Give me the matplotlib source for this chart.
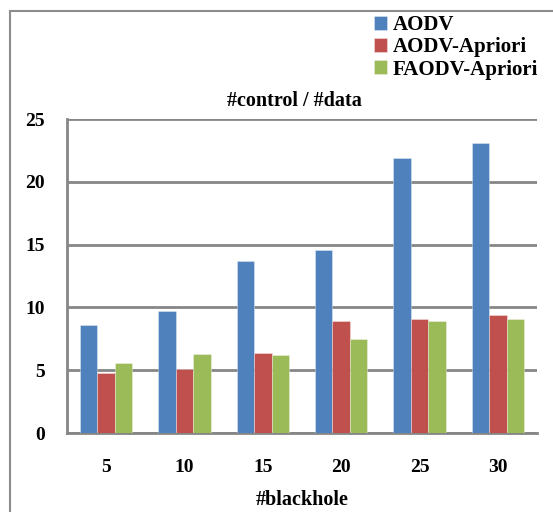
import matplotlib
matplotlib.use("Agg")
import matplotlib.pyplot as plt
import numpy as np
from matplotlib.patches import Rectangle

categories = ["5", "10", "15", "20", "25", "30"]
aodv = [8.6, 9.7, 13.7, 14.6, 21.9, 23.1]
aodv_apriori = [4.8, 5.1, 6.4, 8.9, 9.1, 9.4]
faodv_apriori = [5.6, 6.3, 6.2, 7.5, 8.9, 9.1]
series_names = ["AODV", "AODV-Apriori", "FAODV-Apriori"]
colors = ["#4F81BD", "#C0504D", "#9BBB59"]

plt.rcParams['font.family'] = ['Liberation Serif', 'DejaVu Serif']
plt.rcParams['font.weight'] = 'bold'

fig = plt.figure(figsize=(5.53, 5.12), dpi=100)
W, H = 553, 512
ax = fig.add_axes([67 / W, 1 - 433 / H, 470 / W, (433 - 119) / H])

x = np.arange(len(categories))
bw = 0.222
for i, (vals, name, c) in enumerate(zip([aodv, aodv_apriori, faodv_apriori], series_names, colors)):
    ax.bar(x + (i - 1) * bw, vals, width=bw, color=c, label=name,
           edgecolor=(1, 1, 1, 0.4), linewidth=0.6, zorder=3)

ax.set_xlim(-0.5, len(categories) - 0.5)
ax.set_ylim(0, 25)
ax.set_yticks([0, 5, 10, 15, 20, 25])
ax.set_xticks(x)
ax.set_xticklabels(categories)
ax.tick_params(axis='both', length=0, labelsize=14)
ax.tick_params(axis='y', pad=16)
ax.tick_params(axis='x', pad=19)
for lab in ax.get_xticklabels() + ax.get_yticklabels():
    lab.set_fontweight('bold')
ax.grid(axis='y', color='#868686', linewidth=2, zorder=0)
for s in ['top', 'right']:
    ax.spines[s].set_visible(False)
for s in ['left', 'bottom']:
    ax.spines[s].set_color('#868686')
    ax.spines[s].set_linewidth(2)
ax.set_title("#control / #data", fontsize=14.5, fontweight='bold', pad=9,
             x=(294.5 - 67) / 470)
ax.set_xlabel("#blackhole", fontsize=14.5, fontweight='bold', labelpad=10)

leg = fig.legend(loc='upper left', bbox_to_anchor=(366 / W, 1 - 7 / H),
                 frameon=False, prop={'weight': 'bold', 'size': 15},
                 handlelength=0.62, handleheight=0.62, handletextpad=0.25,
                 labelspacing=0.1, borderaxespad=0)

fig.patches.append(Rectangle((10 / W, -0.1), 1.0, 1 - 11 / H + 0.1,
                             transform=fig.transFigure, fill=False,
                             edgecolor='#8c8c8c', linewidth=1.5))

fig.savefig("out.png", dpi=100)
